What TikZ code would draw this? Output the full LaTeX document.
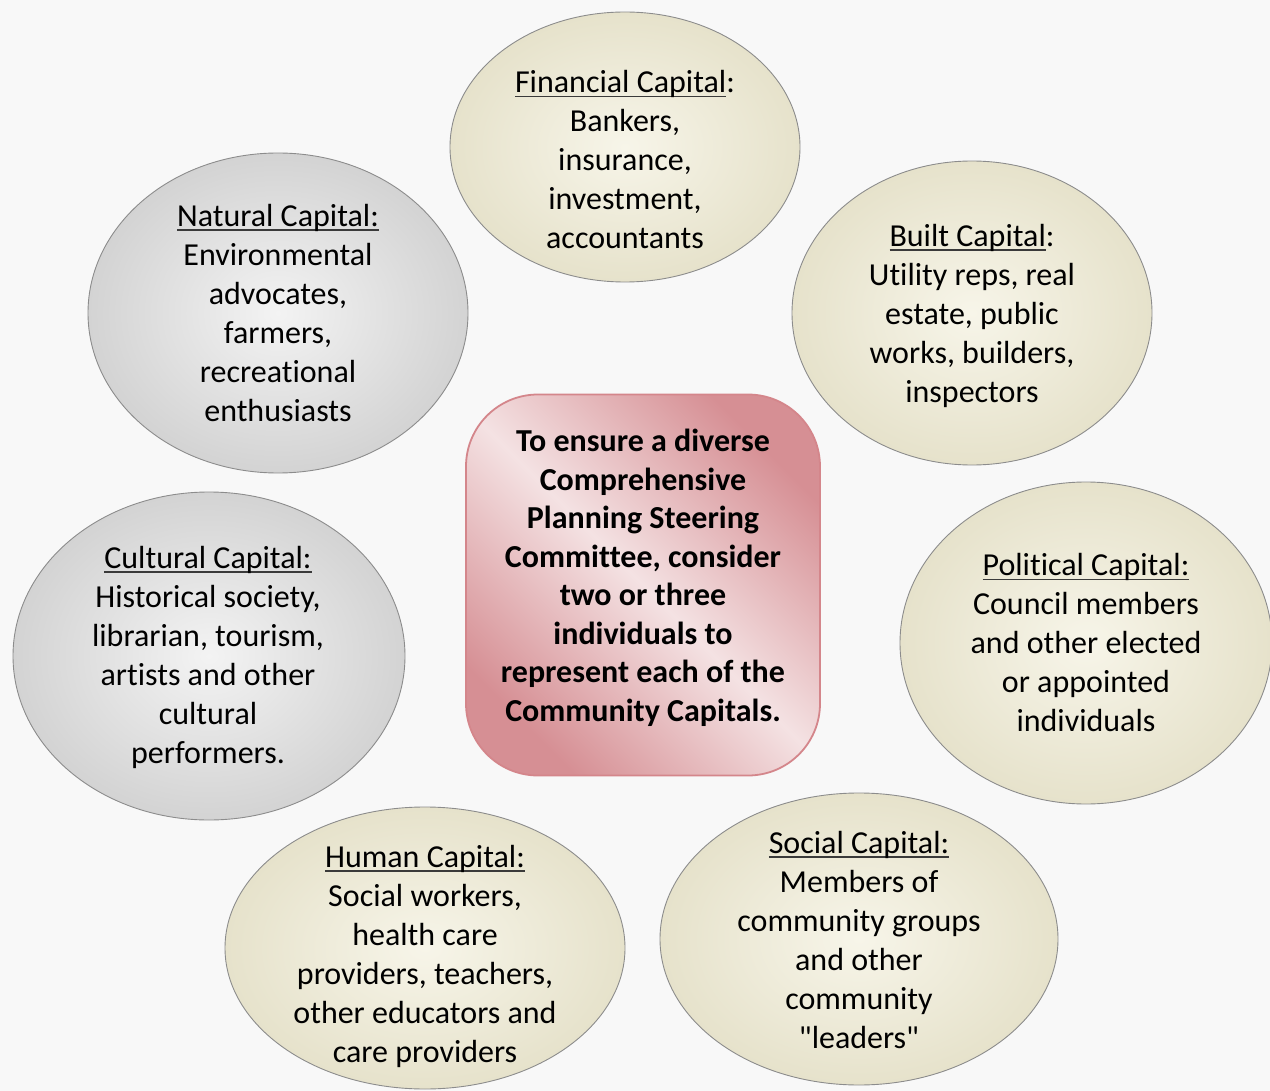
\documentclass[tikz,border=0pt]{standalone}
\usepackage{fontspec}
\setmainfont{Carlito}[Ligatures={TeXOff,CommonOff}]
\usetikzlibrary{shapes.geometric}
\definecolor{bgc}{HTML}{F8F8F8}
\definecolor{creamin}{HTML}{F7F5E9}
\definecolor{creamout}{HTML}{E6E2CB}
\definecolor{greyin}{HTML}{F3F3F3}
\definecolor{greyout}{HTML}{D3D3D3}
\definecolor{edgec}{HTML}{8C8C8C}
\definecolor{pinkdark}{HTML}{D68F94}
\definecolor{pinklight}{HTML}{F4E2E3}
\definecolor{pinkedge}{HTML}{D4868B}
\definecolor{ulc}{HTML}{3A3A3A}
\newcommand\capul[1]{\setbox0\hbox{#1}\rlap{\color{ulc}\rule[-4.5pt]{\wd0}{1.7pt}}\box0}
\tikzset{
  capbase/.style={ellipse, draw=edgec, line width=0.9pt, inner sep=0pt},
  cream/.style={capbase, inner color=creamin, outer color=creamout},
  greyish/.style={capbase, inner color=greyin, outer color=greyout},
  captext/.style={align=center, font=\fontsize{32}{39}\selectfont, text=black, inner sep=0pt},
  centertext/.style={align=center, font=\fontsize{32}{38.5}\selectfont\bfseries, text=black, inner sep=0pt},
  centerbox/.style={rectangle, rounded corners=72pt, draw=pinkedge, line width=1.8pt,
    left color=pinkdark, right color=pinkdark, middle color=pinklight, shading angle=135, inner sep=0pt}
}
\begin{document}
\begin{tikzpicture}[x=1pt,y=-1pt]
\fill[bgc] (0,0) rectangle (1270,1091);
\useasboundingbox (0,0) rectangle (1270,1091);

% ellipses
\node[cream, minimum width=350pt, minimum height=270pt] (fin) at (625,147) {};
\node[greyish, minimum width=380pt, minimum height=320pt] (nat) at (278,313) {};
\node[cream, minimum width=360pt, minimum height=304pt] (bui) at (972,313) {};
\node[greyish, minimum width=392pt, minimum height=328pt] (cul) at (209,656) {};
\node[cream, minimum width=372pt, minimum height=322pt] (pol) at (1086,643) {};
\node[cream, minimum width=400pt, minimum height=282pt] (hum) at (425,948) {};
\node[cream, minimum width=398pt, minimum height=292pt] (soc) at (859,939) {};

% center box
\node[centerbox, minimum width=354pt, minimum height=381pt] (ctr) at (643,585) {};

% texts
\node[captext] (fin-t) at (625,160) {\capul{Financial Capital}:\\Bankers,\\insurance,\\investment,\\accountants};
\node[captext] (nat-t) at (278,313) {\capul{Natural Capital:}\\Environmental\\advocates,\\farmers,\\recreational\\enthusiasts};
\node[captext] (bui-t) at (972,316) {\capul{Built Capital}:\\Utility reps, real\\estate, public\\works, builders,\\inspectors};
\node[captext] (cul-t) at (208,657) {\capul{Cultural Capital:}\\Historical society,\\librarian, tourism,\\artists and other\\cultural\\performers.};
\node[captext] (pol-t) at (1086,643) {\capul{Political Capital:}\\Council members\\and other elected\\or appointed\\individuals};
\node[captext] (hum-t) at (425,956) {\capul{Human Capital:}\\Social workers,\\health care\\providers, teachers,\\other educators and\\care providers};
\node[captext] (soc-t) at (859,940) {\capul{Social Capital:}\\Members of\\community groups\\and other\\community\\"leaders"};
\node[centertext] (ctr-t) at (643,578) {To ensure a diverse\\Comprehensive\\Planning Steering\\Committee, consider\\two or three\\individuals to\\represent each of the\\Community Capitals.};
\end{tikzpicture}
\end{document}
